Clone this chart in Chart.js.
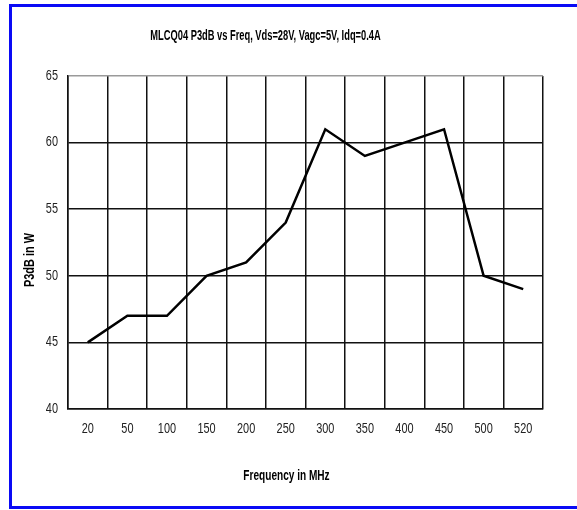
<!DOCTYPE html>
<html>
<head>
<meta charset="utf-8">
<script src="https://cdn.jsdelivr.net/npm/chart.js@4/dist/chart.umd.min.js"></script>
<style>
  html, body { margin: 0; padding: 0; background: #fff; overflow: hidden; }
  #wrap { position: relative; width: 577px; height: 510px; }
  #frame { position: absolute; left: 9px; top: 4px; width: 620px; height: 499px;
           border: 3px solid #0a0af5; box-sizing: content-box; pointer-events: none; }
  canvas { position: absolute; left: 0; top: 0; }
</style>
</head>
<body>
<div id="wrap">
  <canvas id="chart" width="577" height="510"></canvas>
  <div id="frame"></div>
</div>
<script>
// Frequency points (MHz) and measured P3dB (W)
const frequencies = ['20', '50', '100', '150', '200', '250', '300', '350', '400', '450', '500', '520'];
const p3dbWatts = [45, 47, 47, 50, 51, 54, 61, 59, 60, 61, 50, 49];
const yTicks = [40, 45, 50, 55, 60, 65];

const chartTitle = 'MLCQ04 P3dB vs Freq, Vds=28V, Vagc=5V, Idq=0.4A';
const xTitle = 'Frequency in MHz';
const yTitle = 'P3dB in W';

const FONT = "'Liberation Sans', Arial, sans-serif";

// Horizontal condensing applied to each piece of text (narrow face look)
const condense = new Map([[chartTitle, 0.665], [xTitle, 0.72], [yTitle, 0.78]]);
const DEFAULT_CONDENSE = 0.78;
// Small horizontal nudges for the two captions
const nudge = new Map([[chartTitle, -6], [xTitle, -19]]);

const narrowText = {
  id: 'narrowText',
  beforeInit(chart) {
    const ctx = chart.ctx;
    const fill = ctx.fillText;
    ctx.fillText = function (text, x, y, maxWidth) {
      const k = condense.has(text) ? condense.get(text) : DEFAULT_CONDENSE;
      const dx = nudge.get(text) || 0;
      this.save();
      this.translate(x + dx, y);
      this.scale(k, 1);
      if (maxWidth === undefined) fill.call(this, text, 0, 0);
      else fill.call(this, text, 0, 0, maxWidth / k);
      this.restore();
    };
  }
};

// Rotated y-axis caption, drawn beside the value labels
const yCaption = {
  id: 'yCaption',
  afterDraw(chart) {
    const ctx = chart.ctx;
    ctx.save();
    ctx.translate(30, 260);
    ctx.rotate(-Math.PI / 2);
    ctx.font = 'bold 14px ' + FONT;
    ctx.fillStyle = '#000';
    ctx.textAlign = 'center';
    ctx.textBaseline = 'middle';
    ctx.fillText(yTitle, 0, 0);
    ctx.restore();
  }
};

new Chart(document.getElementById('chart'), {
  type: 'line',
  data: {
    labels: frequencies,
    datasets: [{
      data: p3dbWatts,
      borderColor: '#000',
      borderWidth: 2.5,
      pointRadius: 0,
      tension: 0,
      fill: false
    }]
  },
  options: {
    responsive: false,
    animation: false,
    devicePixelRatio: 1,
    layout: { padding: { left: 0, right: 34, top: 0, bottom: 0 } },
    plugins: {
      legend: { display: false },
      tooltip: { enabled: false },
      title: {
        display: true,
        text: chartTitle,
        color: '#000',
        font: { family: FONT, size: 14, weight: 'bold' },
        padding: { top: 27.6, bottom: 31.6 }
      }
    },
    scales: {
      x: {
        offset: true,
        grid: {
          offset: true,
          drawTicks: false,
          lineWidth: 1.5,
          color: (c) => (c.index === frequencies.length ? '#9a9a9a' : '#111')
        },
        border: { color: '#111', width: 1.5 },
        ticks: {
          color: '#222',
          padding: 12,
          maxRotation: 0,
          autoSkip: false,
          font: { family: FONT, size: 14 }
        },
        title: {
          display: true,
          text: xTitle,
          color: '#000',
          font: { family: FONT, size: 14, weight: 'bold' },
          padding: { top: 0, bottom: 25.6 }
        },
        afterFit: (scale) => { scale.height = 101; }
      },
      y: {
        min: 40,
        max: 65,
        afterBuildTicks: (scale) => { scale.ticks = yTicks.map(v => ({ value: v })); },
        grid: {
          drawTicks: false,
          lineWidth: 1.5,
          color: (c) => (c.tick && c.tick.value === 65 ? '#9a9a9a' : '#111')
        },
        border: { color: '#111', width: 1.5 },
        ticks: {
          color: '#222',
          padding: 10,
          font: { family: FONT, size: 14 }
        },
        afterFit: (scale) => { scale.width = 68; }
      }
    }
  },
  plugins: [narrowText, yCaption]
});
</script>
</body>
</html>
